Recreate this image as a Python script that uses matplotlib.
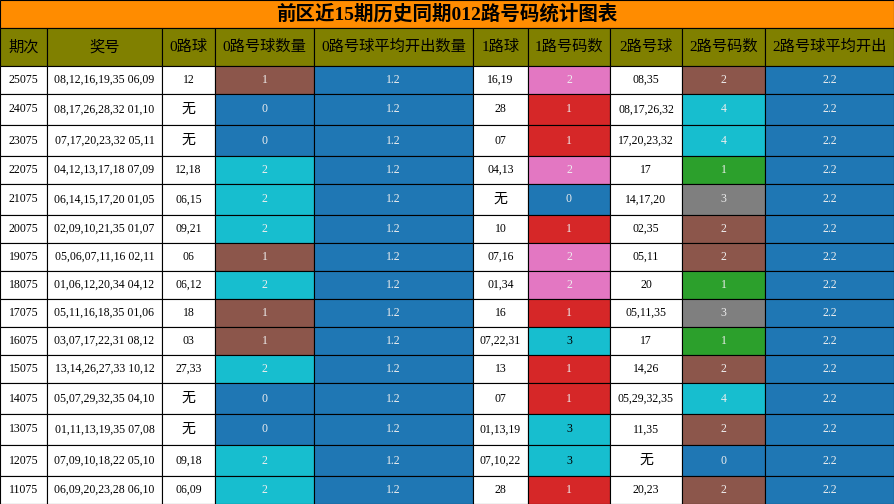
import matplotlib.pyplot as plt
from matplotlib.patches import Rectangle

plt.rcParams['font.family'] = ['Liberation Serif', 'Noto Sans CJK SC']

title = "前区近15期历史同期012路号码统计图表"
headers = ["期次", "奖号", "0路球", "0路号球数量", "0路号球平均开出数量",
           "1路球", "1路号码数", "2路号球", "2路号码数", "2路号球平均开出"]
periods = ["25075", "24075", "23075", "22075", "21075", "20075", "19075", "18075",
           "17075", "16075", "15075", "14075", "13075", "12075", "11075"]
draws = ["08,12,16,19,35 06,09", "08,17,26,28,32 01,10", "07,17,20,23,32 05,11",
         "04,12,13,17,18 07,09", "06,14,15,17,20 01,05", "02,09,10,21,35 01,07",
         "05,06,07,11,16 02,11", "01,06,12,20,34 04,12", "05,11,16,18,35 01,06",
         "03,07,17,22,31 08,12", "13,14,26,27,33 10,12", "05,07,29,32,35 04,10",
         "01,11,13,19,35 07,08", "07,09,10,18,22 05,10", "06,09,20,23,28 06,10"]
zero_balls = ["12", "无", "无", "12,18", "06,15", "09,21", "06", "06,12", "18", "03",
              "27,33", "无", "无", "09,18", "06,09"]
zero_cnt = [1, 0, 0, 2, 2, 2, 1, 2, 1, 1, 2, 0, 0, 2, 2]
zero_avg = "1.2"
one_balls = ["16,19", "28", "07", "04,13", "无", "10", "07,16", "01,34", "16",
             "07,22,31", "13", "07", "01,13,19", "07,10,22", "28"]
one_cnt = [2, 1, 1, 2, 0, 1, 2, 2, 1, 3, 1, 1, 3, 3, 1]
two_balls = ["08,35", "08,17,26,32", "17,20,23,32", "17", "14,17,20", "02,35", "05,11",
             "20", "05,11,35", "17", "14,26", "05,29,32,35", "11,35", "无", "20,23"]
two_cnt = [2, 4, 4, 1, 3, 2, 2, 1, 3, 1, 2, 4, 2, 0, 2]
two_avg = "2.2"

BLUE, BROWN, CYAN = "#1f77b4", "#8c564b", "#17becf"
RED, PINK, GREEN, GRAY = "#d62728", "#e377c2", "#2ca02c", "#7f7f7f"
zero_col = {0: BLUE, 1: BROWN, 2: CYAN}
one_col = {0: BLUE, 1: RED, 2: PINK, 3: CYAN}
two_col = {0: BLUE, 1: GREEN, 2: BROWN, 3: GRAY, 4: CYAN}

xs = [0, 47, 162, 215, 314, 473, 528, 610, 682, 765, 894]

fig = plt.figure(figsize=(8.94, 5.04), dpi=100)
ax = fig.add_axes([0, 0, 1, 1])
ax.set_xlim(0, 894)
ax.set_ylim(504, 0)
ax.axis("off")

def cell(x0, x1, y0, y1, fc, txt, tc="black", size=9, weight="normal"):
    ax.add_patch(Rectangle((x0, y0), x1 - x0, y1 - y0, facecolor=fc,
                           edgecolor="black", linewidth=0.8))
    ax.text((x0 + x1) / 2, (y0 + y1) / 2, txt, ha="center", va="center",
            color=tc, fontsize=size, fontweight=weight)

cell(0, 894, 0, 28, "#ff8c00", title, size=14, weight="bold")
for i, h in enumerate(headers):
    cell(xs[i], xs[i + 1], 28, 66, "#808000", h, size=11)

y = 66
for r in range(len(periods)):
    row = [periods[r], draws[r], zero_balls[r], zero_cnt[r], zero_avg,
           one_balls[r], one_cnt[r], two_balls[r], two_cnt[r], two_avg]
    h = 31 if "无" in (zero_balls[r], one_balls[r], two_balls[r]) else 28
    for c, v in enumerate(row):
        fc, tc = "white", "black"
        if c == 3:
            fc, tc = zero_col[v], "#eeeeee"
        elif c == 6:
            fc, tc = one_col[v], "#eeeeee"
        elif c == 8:
            fc, tc = two_col[v], "#eeeeee"
        elif c in (4, 9):
            fc, tc = BLUE, "#eeeeee"
        if c == 6 and v == 3:
            tc = "black"
        size = 10 if v == "无" else 8.5
        cell(xs[c], xs[c + 1], y, y + h, fc, str(v), tc=tc, size=size)
    y += h

fig.savefig("out.png", dpi=100)
